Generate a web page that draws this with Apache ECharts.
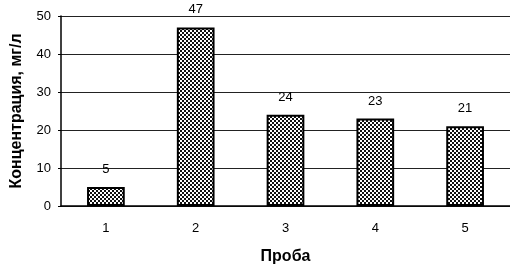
<!DOCTYPE html>
<html>
<head>
<meta charset="utf-8">
<script src="https://cdn.jsdelivr.net/npm/echarts@6/dist/echarts.min.js"></script>
<style>
  html, body { margin: 0; padding: 0; background: #fff; }
  #chart { width: 510px; height: 265px; }
</style>
</head>
<body>
<div id="chart"></div>
<script>
var samples = ['1', '2', '3', '4', '5'];
var concentration = [5, 47, 24, 23, 21];
var yTicks = [0, 10, 20, 30, 40, 50];

// dotted hatch like the scanned bars
function makeHatch() {
    var c = document.createElement('canvas');
    c.width = 4;
    c.height = 4;
    var ctx = c.getContext('2d');
    ctx.fillStyle = '#111111';
    ctx.fillRect(0, 0, 4, 4);
    ctx.fillStyle = '#ffffff';
    ctx.fillRect(0, 0, 2, 2);
    ctx.fillRect(2, 2, 2, 2);
    return c;
}

var myChart = echarts.init(document.getElementById('chart'));

var option = {
    backgroundColor: '#fff',
    animation: false,
    textStyle: { fontFamily: 'Liberation Sans, Arial, sans-serif' },
    grid: { left: 61, right: 0, top: 16, bottom: 59, outerBoundsMode: 'none' },
    xAxis: {
        type: 'category',
        data: samples,
        name: 'Проба',
        nameLocation: 'middle',
        nameGap: 43,
        nameTextStyle: { fontSize: 16, fontWeight: 'bold', color: '#000' },
        axisLine: { lineStyle: { color: '#000', width: 1.5 } },
        axisTick: { length: 4, lineStyle: { color: '#000' } },
        axisLabel: { margin: 16, fontSize: 13, color: '#000' }
    },
    yAxis: {
        type: 'value',
        min: yTicks[0],
        max: yTicks[yTicks.length - 1],
        interval: 10,
        name: 'Концентрация, мг/л',
        nameLocation: 'middle',
        nameGap: 36,
        nameTextStyle: { fontSize: 16, fontWeight: 'bold', color: '#000' },
        axisLine: { show: true, lineStyle: { color: '#000', width: 1.5 } },
        axisTick: { show: true, inside: false, length: 3, lineStyle: { color: '#000' } },
        axisLabel: { margin: 10, fontSize: 13, color: '#000' },
        splitLine: { lineStyle: { color: '#222', width: 1 } }
    },
    series: [{
        type: 'bar',
        data: concentration,
        barWidth: '42%',
        itemStyle: {
            color: { image: makeHatch(), repeat: 'repeat' },
            borderColor: '#000',
            borderWidth: 2
        },
        label: {
            show: true,
            position: 'top',
            distance: 11,
            fontSize: 13,
            color: '#000'
        }
    }]
};

myChart.setOption(option);
</script>
</body>
</html>
